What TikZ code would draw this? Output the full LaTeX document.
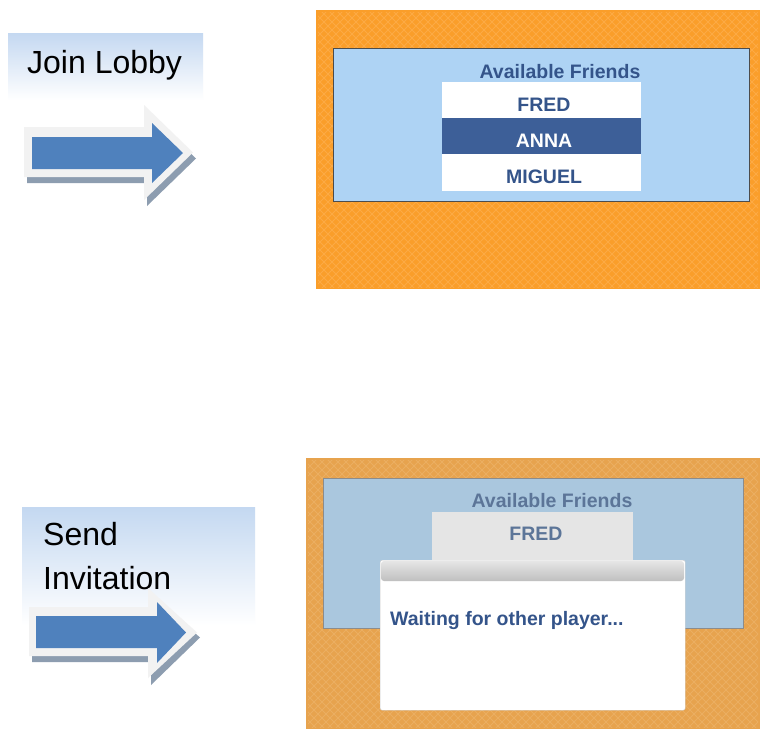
\documentclass[tikz,border=0pt]{standalone}
\usepackage{fontspec}
\setmainfont{Liberation Sans}
\definecolor{arrblue}{RGB}{79,129,189}
\definecolor{arrlight}{RGB}{242,242,242}
\definecolor{arrshadow}{RGB}{141,157,176}
\definecolor{lblblue}{RGB}{196,216,241}
\definecolor{orangeA}{RGB}{250,158,42}
\definecolor{orangeAl}{RGB}{252,170,68}
\definecolor{orangeB}{RGB}{231,163,78}
\definecolor{orangeBl}{RGB}{235,174,97}
\definecolor{panelA}{RGB}{174,211,244}
\definecolor{panelB}{RGB}{170,199,222}
\definecolor{txtblue}{RGB}{52,84,138}
\definecolor{txtdim}{RGB}{92,117,152}
\definecolor{selblue}{RGB}{61,95,152}
\tikzset{
  panel/.style={draw=#1, line width=0.8pt, inner sep=0, anchor=north west},
  rowbox/.style={inner sep=0, anchor=north west, minimum width=199pt, minimum height=36pt},
  bigtxt/.style={inner sep=0, font=\fontsize{32}{38}\selectfont},
  uitxt/.style={inner sep=0, font=\bfseries\fontsize{19.5}{23}\selectfont},
}
\begin{document}
\begin{tikzpicture}[x=1pt,y=-1pt]
\useasboundingbox (0,0) rectangle (760,729);
\fill[white] (0,0) rectangle (760,729);

% ---------- top label ----------
\shade[top color=lblblue, bottom color=white] (8,33) rectangle (203,100);
\node[bigtxt, anchor=base west] (join) at (27,73) {Join Lobby};

% ---------- arrow 1 ----------
\fill[arrshadow] (27,133) -- (147,133) -- (147,111) -- (196,158.5) -- (147,206) -- (147,183) -- (27,183) -- cycle;
\fill[arrlight] (24,127) -- (144,127) -- (144,105) -- (193,152.5) -- (144,200) -- (144,177) -- (24,177) -- cycle;
\fill[arrblue] (32,137) -- (152,137) -- (152,123) -- (183,153) -- (152,183) -- (152,169) -- (32,169) -- cycle;

% ---------- top screen ----------
\node[fill=orangeA, inner sep=0, anchor=north west, minimum width=444pt, minimum height=279pt] (scr1) at (316,10) {};
\begin{scope}
  \clip (318,12) rectangle (758,287);
  \foreach \i in {-300,-292,...,760} {
    \draw[orangeAl, line width=0.9pt] (\i+316,10) -- ++(280,280);
    \draw[orangeAl, line width=0.9pt] (\i+316+280,10) -- ++(-280,280);
  }
\end{scope}
\node[panel=black!70, fill=panelA, minimum width=416pt, minimum height=153pt] (pan1) at (333,48) {};
\node[uitxt, text=txtblue, anchor=base] (af1) at (560,78) {Available Friends};
\node[rowbox, fill=white] (r1) at (442,82) {};
\node[rowbox, fill=selblue] (r2) at (442,118) {};
\node[rowbox, fill=white, minimum height=37pt] (r3) at (442,154) {};
\node[uitxt, text=txtblue, anchor=base] (fred1) at (544,111) {FRED};
\node[uitxt, text=white, anchor=base] (anna) at (544,147) {ANNA};
\node[uitxt, text=txtblue, anchor=base] (miguel) at (544,183) {MIGUEL};

% ---------- bottom label ----------
\shade[top color=lblblue, bottom color=white] (22,507) rectangle (255,625);
\node[bigtxt, anchor=base west] (send) at (43,545) {Send};
\node[bigtxt, anchor=base west] (invit) at (43,589) {Invitation};

% ---------- arrow 2 ----------
\fill[arrshadow] (32,613) -- (151,613) -- (151,594) -- (200,637.5) -- (151,685) -- (151,662) -- (32,662) -- cycle;
\fill[arrlight] (29,607) -- (148,607) -- (148,588) -- (197,632.5) -- (148,678) -- (148,656) -- (29,656) -- cycle;
\fill[arrblue] (36,616) -- (157,616) -- (157,602) -- (186,632.5) -- (157,663) -- (157,648) -- (36,648) -- cycle;

% ---------- bottom screen ----------
\node[fill=orangeB, inner sep=0, anchor=north west, minimum width=454pt, minimum height=271pt] (scr2) at (306,458) {};
\begin{scope}
  \clip (308,460) rectangle (758,727);
  \foreach \i in {-300,-292,...,760} {
    \draw[orangeBl, line width=0.9pt] (\i+306,458) -- ++(280,280);
    \draw[orangeBl, line width=0.9pt] (\i+306+280,458) -- ++(-280,280);
  }
\end{scope}
\node[panel=black!45, fill=panelB, minimum width=420pt, minimum height=150pt] (pan2) at (323,478) {};
\node[uitxt, text=txtdim, anchor=base] (af2) at (552,507) {Available Friends};
\node[inner sep=0, anchor=north west, fill=black!10, minimum width=201pt, minimum height=48pt] (fredbox) at (432,512) {};
\node[uitxt, text=txtdim, anchor=base] (fred2) at (536,540) {FRED};
\node[draw=black!20, fill=white, rounded corners=2pt, inner sep=0, anchor=north west, minimum width=305pt, minimum height=150pt] (dlg) at (380,560) {};
\shade[top color=black!10, bottom color=black!25, rounded corners=3pt] (381,561) rectangle (684,581);
\node[uitxt, text=txtblue, anchor=base west] (wait) at (390,625) {Waiting for other player...};
\end{tikzpicture}
\end{document}
